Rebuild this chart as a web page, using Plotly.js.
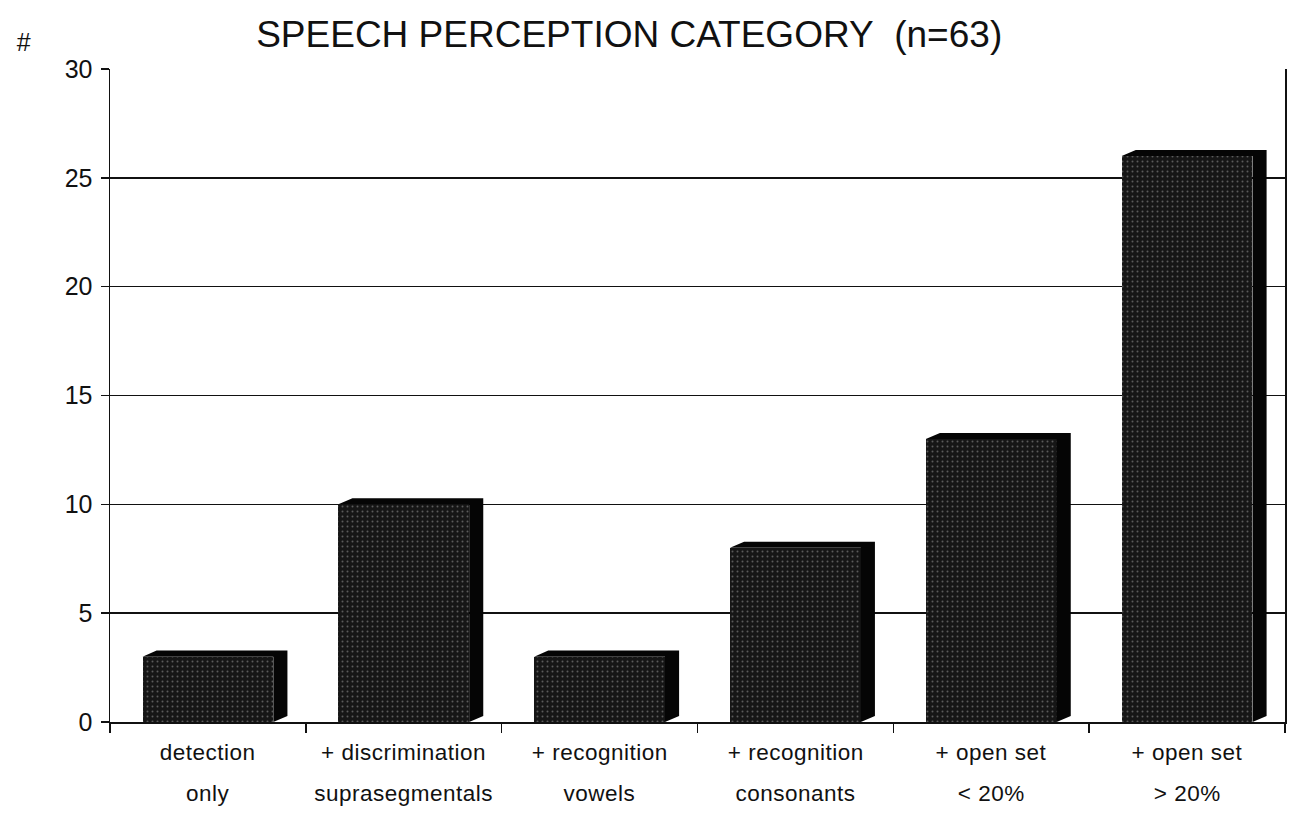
<!DOCTYPE html>
<html>
<head>
<meta charset="utf-8">
<script src="https://cdn.plot.ly/plotly-3.0.1.min.js"></script>
<style>
html,body{margin:0;padding:0;background:#fff;}
#chart{width:1292px;height:814px;}
#chart .annotation-text{letter-spacing:0.5px;}
</style>
</head>
<body>
<div id="chart"></div>
<script>
// ---- data ----
var categories = ["detection only", "+ discrimination suprasegmentals", "+ recognition vowels",
                  "+ recognition consonants", "+ open set < 20%", "+ open set > 20%"];
var labelLine1 = ["detection", "+ discrimination", "+ recognition", "+ recognition", "+ open set", "+ open set"];
var labelLine2 = ["only", "suprasegmentals", "vowels", "consonants", "< 20%", "> 20%"];
var counts = [3, 10, 3, 8, 13, 26];
var yTicks = [0, 5, 10, 15, 20, 25, 30];

// ---- style constants ----
var FONT = "Liberation Sans, Arial, Helvetica, sans-serif";
var BAR_W = 0.668;   // front face width in category units
var DEPTH_X = 0.072; // 3D depth, category units
var DEPTH_Y = 0.28;  // 3D depth, value units

var idx = categories.map(function (c, i) { return i; });

var trace = {
  type: "bar",
  x: idx,
  y: counts,
  width: BAR_W,
  marker: {
    color: "#1b1b1b",
    line: {width: 0},
    pattern: {shape: ".", fgcolor: "#5c5c5c", bgcolor: "#161616", size: 5, solidity: 0.12, fillmode: "replace"}
  },
  hoverinfo: "x+y",
  showlegend: false
};

// 3D top + right side faces, positioned in data coordinates
var shapes = idx.map(function (i) {
  var v = counts[i], hw = BAR_W / 2;
  var p = [
    [i - hw, v], [i - hw + DEPTH_X, v + DEPTH_Y], [i + hw + DEPTH_X, v + DEPTH_Y],
    [i + hw + DEPTH_X, DEPTH_Y], [i + hw, 0], [i + hw, v]
  ];
  var path = "M" + p.map(function (q) { return q[0] + "," + q[1]; }).join(" L") + " Z";
  return {type: "path", xref: "x", yref: "y", path: path, fillcolor: "#050505",
          line: {width: 0}, layer: "above"};
});

var annotations = [];
idx.forEach(function (i) {
  annotations.push({xref: "x", yref: "paper", x: i, y: -0.047, text: labelLine1[i], showarrow: false,
    xanchor: "center", yanchor: "middle", font: {family: FONT, size: 22.5, color: "#111"}});
  annotations.push({xref: "x", yref: "paper", x: i, y: -0.109, text: labelLine2[i], showarrow: false,
    xanchor: "center", yanchor: "middle", font: {family: FONT, size: 22.5, color: "#111"}});
});
annotations.push({xref: "paper", yref: "paper", x: -0.073, y: 1.042, text: "#", showarrow: false,
  xanchor: "center", yanchor: "middle", font: {family: FONT, size: 25, color: "#111"}});

var tickPos = [-0.5].concat(idx.map(function (i) { return i + 0.5; }));

var layout = {
  width: 1292, height: 814,
  paper_bgcolor: "#fff", plot_bgcolor: "#fff",
  margin: {l: 110, r: 7, t: 69, b: 92},
  font: {family: FONT, size: 22, color: "#111"},
  title: {
    text: "SPEECH PERCEPTION CATEGORY&nbsp; (n=63)",
    x: 0.487, xref: "container", xanchor: "center",
    y: 0.958, yref: "container", yanchor: "middle",
    font: {family: FONT, size: 37, color: "#111"}
  },
  xaxis: {
    range: [-0.5, 5.5], tickmode: "array", tickvals: tickPos, showticklabels: false,
    ticks: "outside", ticklen: 9, tickwidth: 1.5, tickcolor: "#111",
    showline: true, linecolor: "#111", linewidth: 2, showgrid: false, zeroline: false,
    fixedrange: true
  },
  yaxis: {
    range: [0, 30], tickmode: "array", tickvals: yTicks,
    ticks: "outside", ticklen: 8, tickwidth: 1.5, tickcolor: "#111", ticklabelstandoff: 3,
    tickfont: {family: FONT, size: 25, color: "#111"},
    showline: true, linecolor: "#111", linewidth: 1.5, mirror: true,
    showgrid: true, gridcolor: "#111", gridwidth: 1.6, zeroline: false, fixedrange: true
  },
  shapes: shapes,
  annotations: annotations,
  bargap: 0
};

Plotly.newPlot("chart", [trace], layout, {displayModeBar: false, staticPlot: true});
</script>
</body>
</html>
